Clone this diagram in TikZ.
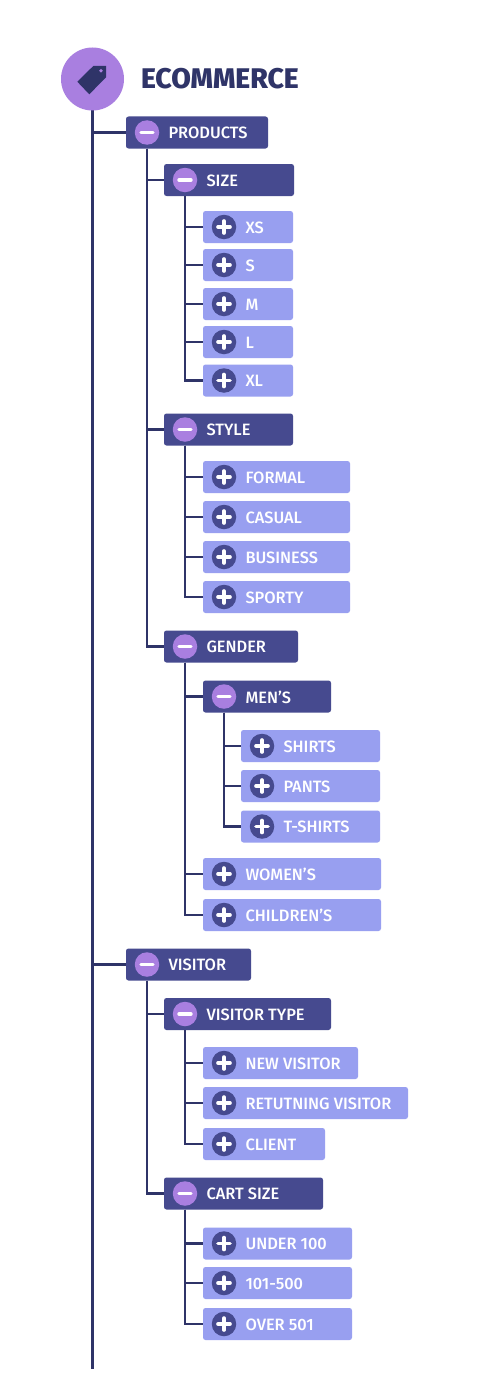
\documentclass[tikz,border=0pt]{standalone}
\usepackage{fontspec}
\setmainfont{Fira Sans}[UprightFont=* Medium]
\definecolor{linec}{HTML}{2F3468}
\definecolor{darkbox}{HTML}{464A8F}
\definecolor{lightbox}{HTML}{989FF0}
\definecolor{purp}{HTML}{A97FE0}
\tikzset{
  boxbase/.style={anchor=west,minimum height=32pt,rounded corners=2.5pt,inner sep=0pt,outer sep=0pt},
  darkb/.style={boxbase,fill=darkbox},
  lightb/.style={boxbase,fill=lightbox},
  iconmark/.style={circle,minimum size=24.5pt,inner sep=0pt,outer sep=0pt},
  lbl/.style={anchor=west,inner sep=0pt,outer sep=0pt,text=white,yshift=-0.5pt,font=\fontsize{16.4}{18}\selectfont},
  conn/.style={draw=linec,line width=2.2pt},
  markline/.style={draw=white,line width=3.6pt,line cap=round}
}
% name, x0, x1, y, label
\newcommand{\dbox}[5]{%
  \pgfmathsetmacro{\boxw}{#3-#2}%
  \node[darkb,minimum width=\boxw pt] (#1) at (#2,#4) {};
  \node[iconmark,fill=purp] (#1i) at (#2+21,#4) {};
  \draw[markline,line width=3.4pt] ([xshift=-6pt]#1i.center) -- ([xshift=6pt]#1i.center);
  \node[lbl] (#1t) at (#2+42.5,#4) {#5};
}
\newcommand{\lbox}[5]{%
  \pgfmathsetmacro{\boxw}{#3-#2}%
  \node[lightb,minimum width=\boxw pt] (#1) at (#2,#4) {};
  \node[iconmark,fill=darkbox] (#1i) at (#2+21,#4) {};
  \draw[markline] ([xshift=-6pt]#1i.center) -- ([xshift=6pt]#1i.center);
  \draw[markline] ([yshift=-6pt]#1i.center) -- ([yshift=6pt]#1i.center);
  \node[lbl] (#1t) at (#2+42.5,#4) {#5};
}
\newcommand{\link}[2]{\draw[conn] (#1i |- #1.south) |- (#2.west);}
\begin{document}
\begin{tikzpicture}[x=1pt,y=-1pt]
\useasboundingbox (0,0) rectangle (500,1394);
\fill[white] (0,0) rectangle (500,1394);
\coordinate (trunkend) at (92.5,1369);
\node[circle,minimum size=63pt,inner sep=0pt,outer sep=0pt] (root) at (92.5,79) {};
\draw[conn] (root.center) -- (trunkend);
\fill[purp] (root) circle (31.5pt);
\fill[linec] (77.3,81.7) -- (89.3,94.3) -- (106,77.3) -- (106,66) -- (93.3,66) -- cycle;
\fill[purp] (101,70.7) circle (1.9pt);
\node[anchor=west,inner sep=0pt,outer sep=0pt,text=linec,font=\fontsize{28.4}{30}\selectfont\bfseries] (title) at (141,79) {ECOMMERCE};
\dbox{products}{126}{268}{132.5}{PRODUCTS}
\dbox{visitor}{126}{251}{964.5}{VISITOR}
\dbox{size}{164}{294}{180}{SIZE}
\dbox{style}{164}{293}{429.5}{STYLE}
\dbox{gender}{164}{298}{646.5}{GENDER}
\dbox{vtype}{164}{331}{1014}{VISITOR TYPE}
\dbox{cart}{164}{323}{1193.5}{CART SIZE}
\dbox{mens}{203}{331}{696.5}{MEN’S}
\lbox{xs}{203}{293}{227}{XS}
\lbox{s}{203}{293}{265}{S}
\lbox{m}{203}{293}{304}{M}
\lbox{l}{203}{293}{342}{L}
\lbox{xl}{203}{293}{380.5}{XL}
\lbox{formal}{203}{350}{477}{FORMAL}
\lbox{casual}{203}{350}{517}{CASUAL}
\lbox{business}{203}{350}{557}{BUSINESS}
\lbox{sporty}{203}{350}{597}{SPORTY}
\lbox{shirts}{241}{380}{746}{SHIRTS}
\lbox{pants}{241}{380}{786}{PANTS}
\lbox{tshirts}{241}{380}{826.5}{T-SHIRTS}
\lbox{womens}{203}{381}{874}{WOMEN’S}
\lbox{childrens}{203}{381}{915}{CHILDREN’S}
\lbox{newv}{203}{358}{1063}{NEW VISITOR}
\lbox{retv}{203}{408}{1103}{RETUTNING VISITOR}
\lbox{client}{203}{325}{1144}{CLIENT}
\lbox{under}{203}{352}{1243.5}{UNDER 100}
\lbox{mid}{203}{352}{1283}{101-500}
\lbox{over}{203}{352}{1324}{OVER 501}
\draw[conn] (root.center |- products.west) -- (products.west);
\draw[conn] (root.center |- visitor.west) -- (visitor.west);
\link{products}{size}\link{products}{style}\link{products}{gender}
\link{size}{xs}\link{size}{s}\link{size}{m}\link{size}{l}\link{size}{xl}
\link{style}{formal}\link{style}{casual}\link{style}{business}\link{style}{sporty}
\link{gender}{mens}\link{gender}{womens}\link{gender}{childrens}
\link{mens}{shirts}\link{mens}{pants}\link{mens}{tshirts}
\link{visitor}{vtype}\link{visitor}{cart}
\link{vtype}{newv}\link{vtype}{retv}\link{vtype}{client}
\link{cart}{under}\link{cart}{mid}\link{cart}{over}
\end{tikzpicture}
\end{document}
